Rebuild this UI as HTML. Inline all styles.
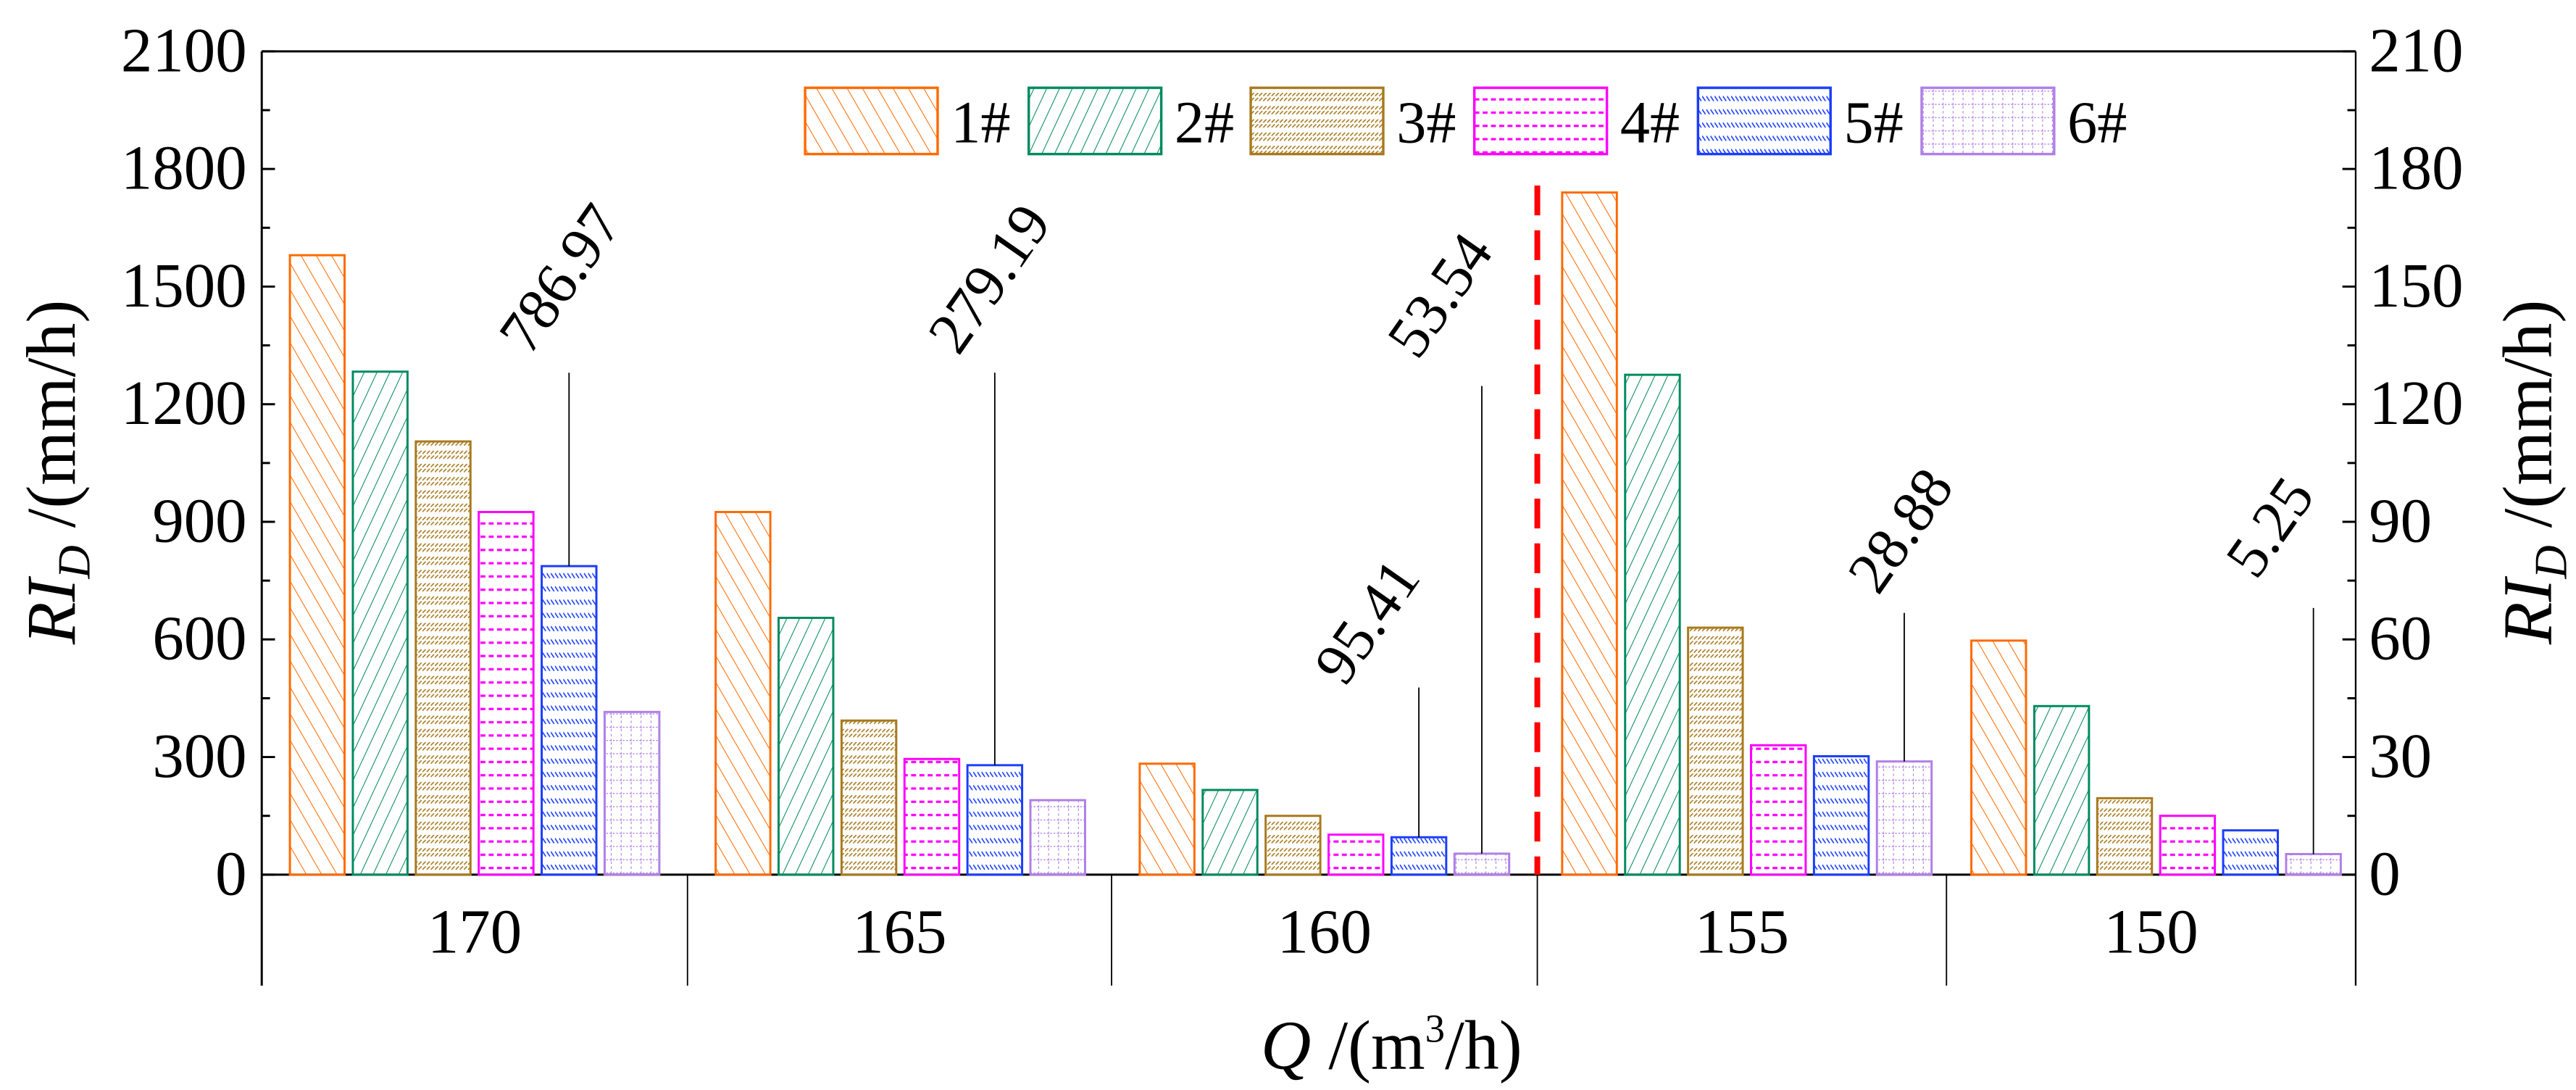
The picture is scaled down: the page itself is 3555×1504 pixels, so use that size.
<!DOCTYPE html>
<html><head><meta charset="utf-8"><style>html,body{margin:0;padding:0;background:#fff;}svg{display:block;}svg text, svg tspan{font-family:"Liberation Serif","Times New Roman",Times,"DejaVu Serif","Noto Serif CJK SC",serif !important;}</style></head>
<body>
<svg id="chart" width="3555" height="1504" viewBox="0 0 1555 658" preserveAspectRatio="none" xmlns="http://www.w3.org/2000/svg">
<defs>
<pattern id="p1" patternUnits="userSpaceOnUse" width="8" height="8" patternTransform="rotate(-30)"><line x1="0" y1="0" x2="0" y2="8" stroke="#ff6a00" stroke-width="0.9"/></pattern>
<pattern id="p2" patternUnits="userSpaceOnUse" width="7" height="7" patternTransform="rotate(25)"><line x1="0" y1="0" x2="0" y2="7" stroke="#008a5e" stroke-width="0.9"/></pattern>
<pattern id="p3" patternUnits="userSpaceOnUse" width="2.5" height="8"><line x1="0" y1="2" x2="2" y2="0" stroke="#a87a1e" stroke-width="0.7"/><line x1="0" y1="5" x2="2" y2="3" stroke="#a87a1e" stroke-width="0.7"/></pattern>
<pattern id="p4" patternUnits="userSpaceOnUse" width="5" height="8"><line x1="0" y1="4" x2="3" y2="4" stroke="#ff00ff" stroke-width="1.4"/></pattern>
<pattern id="p5" patternUnits="userSpaceOnUse" width="2.5" height="8"><line x1="0" y1="2" x2="2" y2="5" stroke="#1a3dff" stroke-width="0.7"/></pattern>
<pattern id="p6" patternUnits="userSpaceOnUse" width="6" height="8"><line x1="0" y1="7" x2="6" y2="7" stroke="#b07fe6" stroke-width="0.6" stroke-dasharray="1 1"/><line x1="3" y1="0" x2="3" y2="8" stroke="#b07fe6" stroke-width="0.5" stroke-dasharray="1.5 1.5"/></pattern>
</defs>
<g id="plot"></g>
</svg>
<script>
const categories = ["170","165","160","155","150"];
const seriesNames = ["1#","2#","3#","4#","5#","6#"];
const s1 = [1580, 925, 283, 174, 59.7];
const s2 = [1283, 655, 216, 127.5, 43];
const s3 = [1105, 393, 150, 63, 19.5];
const s4 = [925, 295, 102, 33, 15];
const s5 = [786.97, 279.19, 95.41, 30.2, 11.3];
const s6 = [415, 190, 53.54, 28.88, 5.25];
const leftTicks = [0,300,600,900,1200,1500,1800,2100];
const rightTicks = [0,30,60,90,120,150,180,210];
const annotations = ["786.97","279.19","95.41","53.54","28.88","5.25"];
const colors = ["#ff6a00","#008a5e","#a87a1e","#ff00ff","#1a3dff","#b07fe6"];

const NS="http://www.w3.org/2000/svg";
const FONT='"Liberation Serif","Times New Roman",Times,"DejaVu Serif","Noto Serif CJK SC",serif';
const g=document.getElementById('plot');
function mk(tag,attrs,parent){const e=document.createElementNS(NS,tag);for(const k in attrs)e.setAttribute(k,attrs[k]);if(tag==='text')e.style.fontFamily=FONT;(parent||g).appendChild(e);return e;}
const X0=158,X1=1422,XD=928,Y0=528,YT=31;
function yL(v){return Y0-(v/2100)*(Y0-YT);}
function yR(v){return Y0-(v/210)*(Y0-YT);}
const catEdges=[158,415,671,928,1175,1422];
const series=[s1,s2,s3,s4,s5,s6];

let e=mk('line',{x1:X0,y1:YT,x2:X1,y2:YT,stroke:'#000','stroke-width':1.3});

e=mk('line',{x1:X0,y1:YT,x2:X0,y2:595,stroke:'#000','stroke-width':1.3});

e=mk('line',{x1:X1,y1:YT,x2:X1,y2:595,stroke:'#000','stroke-width':1});

e=mk('line',{x1:X0,y1:Y0,x2:X1,y2:Y0,stroke:'#000','stroke-width':1.3});

catEdges.slice(1,-1).forEach(x=>{
  const l=mk('line',{x1:x,y1:Y0,x2:x,y2:595,stroke:'#000','stroke-width':0.8});
  
  
});
leftTicks.forEach((v,i)=>{
  const y=yL(v);
  const t=mk('line',{x1:X0,y1:y,x2:X0+8,y2:y,stroke:'#000','stroke-width':1.3});
  
  const tx=mk('text',{x:149,y:y+12,'text-anchor':'end','font-size':38});
  tx.textContent=v;
  
  
  if(i<leftTicks.length-1){const ym=yL(v+150);const m=mk('line',{x1:X0,y1:ym,x2:X0+5,y2:ym,stroke:'#000','stroke-width':1.3});}
});
rightTicks.forEach((v,i)=>{
  const y=yR(v);
  const t=mk('line',{x1:X1-8,y1:y,x2:X1,y2:y,stroke:'#000','stroke-width':1.3});
  
  const tx=mk('text',{x:1430,y:y+12,'text-anchor':'start','font-size':38});
  tx.textContent=v;
  
  
  if(i<rightTicks.length-1){const ym=yR(v+15);const m=mk('line',{x1:X1-5,y1:ym,x2:X1,y2:ym,stroke:'#000','stroke-width':1.3});}
});
categories.forEach((c,i)=>{
  const cx=(catEdges[i]+catEdges[i+1])/2;
  const t=mk('text',{x:cx,y:575,'text-anchor':'middle','font-size':38});
  t.textContent=c;
  
  
});
const BW=33,BP=38,OFF=17;
categories.forEach((c,ci)=>{
  const yf=ci<3?yL:yR;
  series.forEach((s,si)=>{
    const x=catEdges[ci]+OFF+si*BP-(ci>=3?2:0);
    const y=yf(s[ci]);
    const r=mk('rect',{x:x,y:y,width:BW,height:Y0-y,fill:'url(#p'+(si+1)+')',stroke:colors[si],'stroke-width':1.3});
    
    
  });
});
const annPos=[[0,4,225,348,175],[1,4,225,607,175],[2,4,415,835,382],[2,5,233,879,185],[3,5,370,1157,327],[4,5,367,1380,325]];
annPos.forEach((a,k)=>{
  const [ci,si,ly,tx,ty]=a;
  const yf=ci<3?yL:yR;
  const x=catEdges[ci]+OFF+si*BP-(ci>=3?2:0)+BW/2;
  const l=mk('line',{x1:x,y1:ly,x2:x,y2:yf(series[si][ci]),stroke:'#000','stroke-width':0.8});
  
  
  const t=mk('text',{x:tx,y:ty,'text-anchor':'middle','font-size':36,transform:'rotate(-55 '+tx+' '+ty+')'});
  t.textContent=annotations[k];
  
  
});
e=mk('line',{x1:XD,y1:112,x2:XD,y2:Y0,stroke:'#ff0000','stroke-width':3.5,'stroke-dasharray':'18 9'});

const legX=[486,621,755,890,1025,1160];
seriesNames.forEach((n,i)=>{
  const r=mk('rect',{x:legX[i],y:53,width:80,height:40,fill:'url(#p'+(i+1)+')',stroke:colors[i],'stroke-width':1.5});
  
  
  const t=mk('text',{x:legX[i]+88,y:86,'font-size':36});
  t.textContent=n;
  
  
});
e=mk('text',{x:840,y:645,'text-anchor':'middle','font-size':42});
e.innerHTML='<tspan font-style="italic">Q</tspan> /(m<tspan font-size="24" dy="-16">3</tspan><tspan dy="16">/h)</tspan>';

e=mk('text',{x:0,y:0,'text-anchor':'middle','font-size':42,transform:'translate(45 285) rotate(-90)'});
e.innerHTML='<tspan font-style="italic">RI</tspan><tspan font-style="italic" font-size="28" dy="9">D</tspan><tspan dy="-9"> /(mm/h)</tspan>';

e=mk('text',{x:0,y:0,'text-anchor':'middle','font-size':42,transform:'translate(1540 285) rotate(-90)'});
e.innerHTML='<tspan font-style="italic">RI</tspan><tspan font-style="italic" font-size="28" dy="9">D</tspan><tspan dy="-9"> /(mm/h)</tspan>';

</script>
</body></html>
